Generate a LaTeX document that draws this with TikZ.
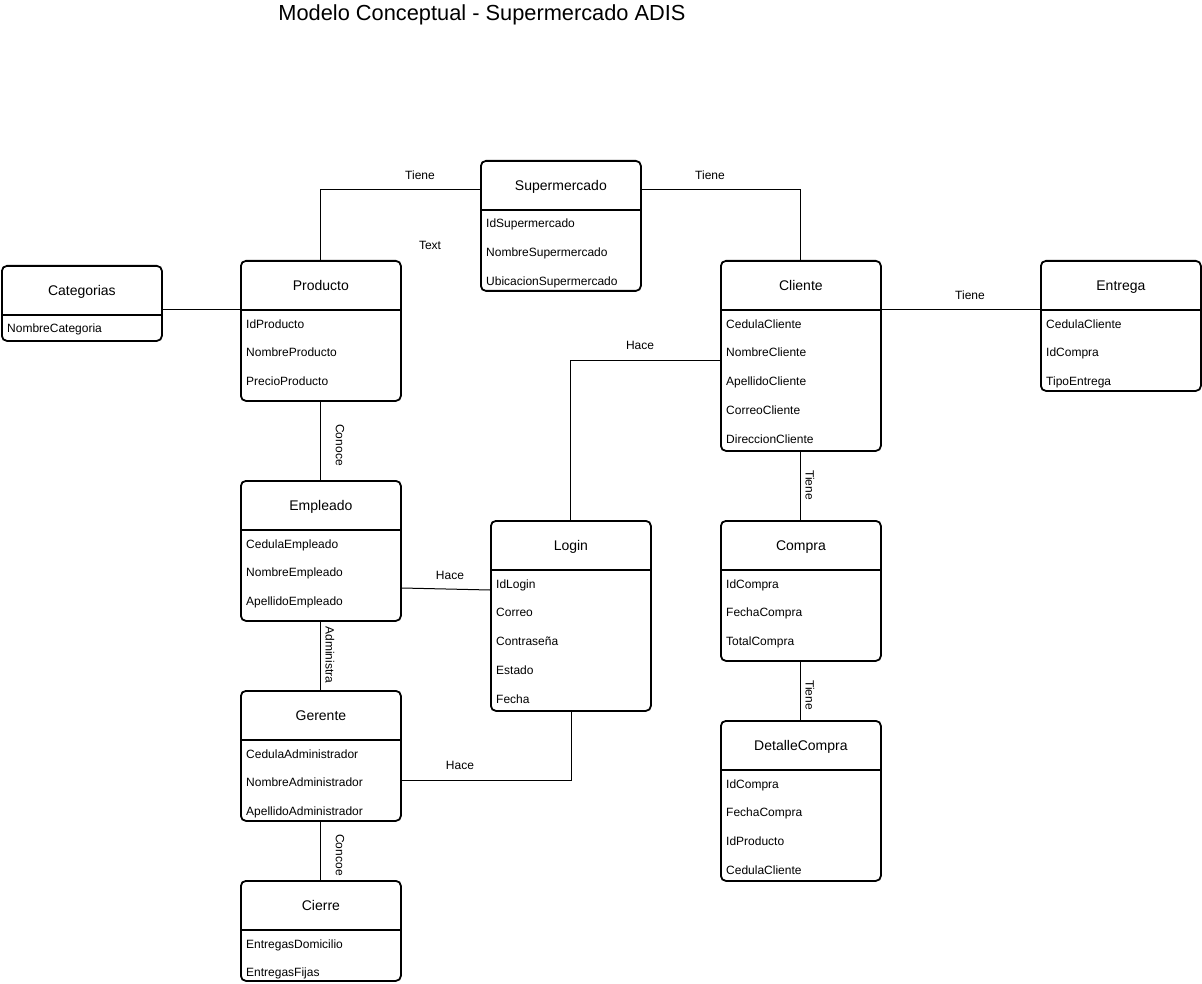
\documentclass[tikz,border=0pt]{standalone}
\usepackage{fontspec}
\setmainfont{Liberation Sans}
\usetikzlibrary{calc,positioning}

\tikzset{
  entity/.style={draw, line width=1.8pt, rounded corners=5pt, minimum width=160pt, inner sep=0pt, anchor=north west},
  etitle/.style={font=\fontsize{14}{16}\selectfont, inner sep=0pt, text height=10pt, text depth=3pt},
  attr/.style={anchor=west, font=\fontsize{12}{14}\selectfont, inner sep=0pt, text height=8.6pt, text depth=2.6pt},
  rel/.style={line width=1pt},
  rlabel/.style={font=\fontsize{12}{14}\selectfont, inner sep=0pt}
}

\begin{document}
\begin{tikzpicture}[x=1pt, y=-1pt]

    \useasboundingbox (0,0) rectangle (1202,984);
    \fill[white] (0,0) rectangle (1202,984);

    \node[font=\fontsize{21.8}{26}\selectfont, inner sep=0pt] (title) at (482,15) {Modelo Conceptual - Supermercado ADIS};

        % Draw the entity boxes with their header line
        \foreach \nm/\x/\y/\h/\t in {sup/480/160/130/Supermercado, cat/1/265/75/Categorias,
                prod/240/260/140/Producto, cli/720/260/190/Cliente, ent/1040/260/130/Entrega,
                emp/240/480/140/Empleado, login/490/520/190/Login, com/720/520/140/Compra,
                ger/240/690/130/Gerente, det/720/720/160/DetalleCompra, cie/240/880/100/Cierre} {
            \node[entity, minimum height=\h pt] (\nm) at (\x,\y) {};
            \node[etitle] (\nm-title) at ([yshift=-27pt]\nm.north) {\t};
            \draw[line width=1.8pt] ([yshift=-50pt]\nm.north west) -- ([yshift=-50pt]\nm.north east);
        }

        % Attributes, one row each
        \foreach \nm/\list in {sup/{IdSupermercado,NombreSupermercado,UbicacionSupermercado},
                cat/{NombreCategoria},
                prod/{IdProducto,NombreProducto,PrecioProducto},
                cli/{CedulaCliente,NombreCliente,ApellidoCliente,CorreoCliente,DireccionCliente},
                ent/{CedulaCliente,IdCompra,TipoEntrega},
                emp/{CedulaEmpleado,NombreEmpleado,ApellidoEmpleado},
                login/{IdLogin,Correo,Contraseña,Estado,Fecha},
                com/{IdCompra,FechaCompra,TotalCompra},
                ger/{CedulaAdministrador,NombreAdministrador,ApellidoAdministrador},
                det/{IdCompra,FechaCompra,IdProducto,CedulaCliente},
                cie/{EntregasDomicilio,EntregasFijas}} {
            \foreach \a [count=\i from 0] in \list {
                \node[attr] (\nm-\i) at ([xshift=6pt, yshift={-(65+28.75*\i)*1pt}]\nm.north west) {\a};
            }
        }

    % Relations
    \draw[rel] (prod.north) |- ([yshift=-30pt]sup.north west);
    \draw[rel] ([yshift=-30pt]sup.north east) -| (cli.north);
    \draw[rel] ([yshift=-45pt]cat.north east) -- ([yshift=-50pt]prod.north west);
    \draw[rel] ([yshift=-50pt]cli.north east) -- ([yshift=-50pt]ent.north west);
    \draw[rel] ([yshift=-100pt]cli.north west) -| (login.north);
    \draw[rel] (prod.south) -- (emp.north);
    \draw[rel] ([yshift=-108pt]emp.north east) -- ([yshift=-70pt]login.north west);
    \draw[rel] (emp.south) -- (ger.north);
    \draw[rel] ([xshift=1pt]login.south) |- ([yshift=-90pt]ger.north east);
    \draw[rel] (ger.south) -- (cie.north);
    \draw[rel] (cli.south) -- (com.north);
    \draw[rel] (com.south) -- (det.north);

    % Relation labels
    \node[rlabel] (l-sup-prod) at (420,175) {Tiene};
    \node[rlabel] (l-sup-cli) at (710,175) {Tiene};
    \node[rlabel] (l-text) at (430,245) {Text};
    \node[rlabel] (l-cli-ent) at (970,295) {Tiene};
    \node[rlabel] (l-cli-login) at (640,345) {Hace};
    \node[rlabel, rotate=-90] (l-prod-emp) at (340,445) {Conoce};
    \node[rlabel] (l-emp-login) at (450,575) {Hace};
    \node[rlabel, rotate=-90] (l-emp-ger) at (330,655) {Administra};
    \node[rlabel] (l-ger-login) at (460,765) {Hace};
    \node[rlabel, rotate=-90] (l-ger-cie) at (340,855) {Concoe};
    \node[rlabel, rotate=-90] (l-cli-com) at (810,485) {Tiene};
    \node[rlabel, rotate=-90] (l-com-det) at (810,695) {Tiene};

\end{tikzpicture}
\end{document}
